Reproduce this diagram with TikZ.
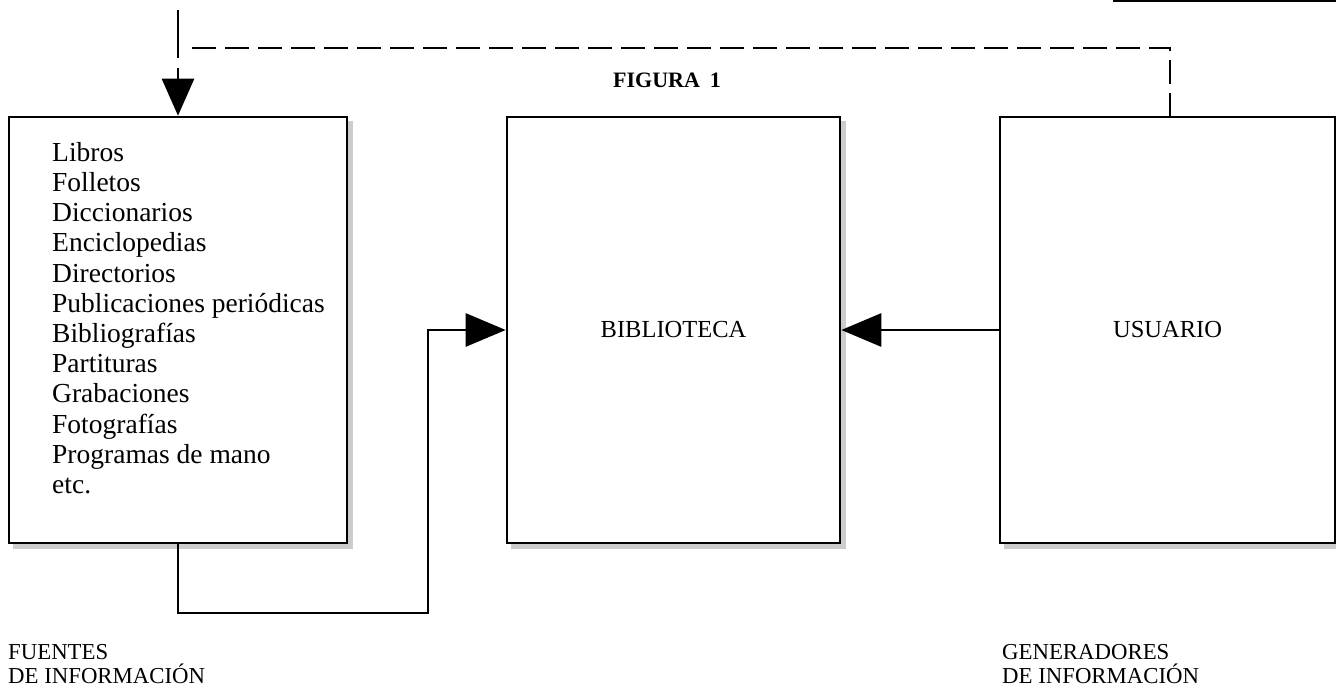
\documentclass[tikz,border=0pt]{standalone}
\usepackage{fontspec}
\setmainfont{Liberation Serif}
\usetikzlibrary{arrows.meta,backgrounds}
\begin{document}
\begin{tikzpicture}[x=1pt,y=-1pt,
  box/.style={draw, line width=2.6pt, fill=white, inner sep=0pt, minimum height=426pt,
              font=\fontsize{24.5}{27}\selectfont},
  conn/.style={line width=2.8pt},
  head/.style={-{Triangle[length=40pt,width=33pt]}},
  lbl/.style={font=\fontsize{22.8}{24}\selectfont, align=left, inner sep=0pt, anchor=north west},
  shadowfill/.style={fill=black!20},
 ]
\useasboundingbox (0,0) rectangle (1336,692);

% boxes
\node[box, minimum width=338pt] (F) at (178,330) {};
\node[box, minimum width=333pt] (B) at (673.5,330) {BIBLIOTECA};
\node[box, minimum width=335pt] (U) at (1167.5,330) {USUARIO};

\begin{scope}[on background layer]
  \foreach \n in {F,B,U}
    \fill[shadowfill] ([shift={(5,5)}]\n.south west) rectangle ([shift={(5,5)}]\n.north east);
\end{scope}

% list
\node[anchor=west, align=left, inner sep=0pt, font=\fontsize{27.5}{30.2}\selectfont] (list) at (52,318)
  {Libros\\Folletos\\Diccionarios\\Enciclopedias\\Directorios\\Publicaciones periódicas\\Bibliografías\\Partituras\\Grabaciones\\Fotografías\\Programas de mano\\etc.};

% title
\node[font=\bfseries\fontsize{22}{24}\selectfont, inner sep=0pt] (fig) at (667,80) {FIGURA\hspace{0.45em}1};

% bottom labels
\node[lbl] (fuentes) at (8,644) {FUENTES\\DE INFORMACIÓN};
\node[lbl] (gener) at (1002,644) {GENERADORES\\DE INFORMACIÓN};

% connectors
\coordinate (c1) at (428,613);
\draw[conn, head] (F.south) |- (c1) |- (B.west);
\draw[conn, head] (U.west) -- (B.east);

\coordinate (top) at (178,10);
\draw[conn, dash pattern=on 48pt off 10pt on 300pt off 0pt, -{Triangle[length=37pt,width=32pt]}] (top) -- (F.north);

\coordinate (ru) at (1170,117);
\coordinate (dl) at (190,48);
\draw[conn, dash pattern=on 24pt off 9pt] (ru) |- (dl);

\coordinate (r1) at (1113,1);
\coordinate (r2) at (1336,1);
\draw[conn] (r1) -- (r2);
\end{tikzpicture}
\end{document}
